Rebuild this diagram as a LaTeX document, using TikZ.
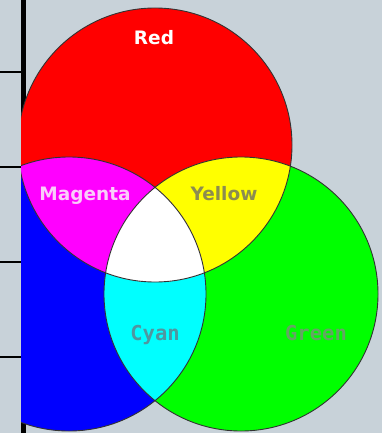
\documentclass[tikz,border=0pt]{standalone}
\usepackage{fontspec}
\usepackage{xcolor}
\usepackage{tikz}
\usetikzlibrary{positioning,calc}
\newfontfamily\labelfont{DejaVu Sans}
\newfontfamily\codefont{DejaVu Sans Mono}
\definecolor{panelbg}{RGB}{200,210,217}
\definecolor{redlight}{RGB}{255,0,0}
\definecolor{greenlight}{RGB}{0,255,0}
\definecolor{bluelight}{RGB}{0,0,255}
\definecolor{yellowmix}{RGB}{255,255,0}
\definecolor{magentamix}{RGB}{255,0,255}
\definecolor{cyanmix}{RGB}{0,255,255}
\definecolor{pinktxt}{RGB}{250,205,250}
\definecolor{yeltxt}{RGB}{140,140,80}
\definecolor{cyantxt}{RGB}{80,150,160}
\definecolor{greentxt}{RGB}{100,165,100}

\begin{document}
\begin{tikzpicture}[x=1pt,y=-1pt,
  lbl/.style={font=\labelfont\bfseries\fontsize{18.5}{20}\selectfont,anchor=base,inner sep=0pt},
  mono/.style={font=\codefont\bfseries\fontsize{20.5}{22}\selectfont,anchor=base,inner sep=0pt},
  rim/.style={draw=black!80,line width=0.9pt}]
\fill[panelbg] (0,0) rectangle (382,433);
\useasboundingbox (0,0) rectangle (382,433);
% frame on the left
\fill[black] (21,0) rectangle (26,433);
\foreach \y in {72,167,262,357}
  \draw[line width=1.5pt] (0,\y) -- (21,\y);
% centres of the three lights
\coordinate (r) at (155,145);
\coordinate (g) at (241,294);
\coordinate (b) at (69,294);
\def\rad{137pt}
\begin{scope}
\clip (21,0) rectangle (382,433);
\fill[redlight] (r) circle[radius=\rad];
\fill[greenlight] (g) circle[radius=\rad];
\fill[bluelight] (b) circle[radius=\rad];
\begin{scope}
  \clip (g) circle[radius=\rad];
  \fill[cyanmix] (b) circle[radius=\rad];
\end{scope}
\begin{scope}
  \clip (r) circle[radius=\rad];
  \fill[yellowmix] (g) circle[radius=\rad];
  \fill[magentamix] (b) circle[radius=\rad];
  \clip (g) circle[radius=\rad];
  \fill[white] (b) circle[radius=\rad];
\end{scope}
\draw[rim] (r) circle[radius=\rad];
\draw[rim] (g) circle[radius=\rad];
\draw[rim] (b) circle[radius=\rad];
\end{scope}
% labels
\node[lbl,text=white] (redlbl) at (154,45) {Red};
\node[lbl,text=pinktxt] (maglbl) at (85,200) {Magenta};
\node[lbl,text=yeltxt] (yellbl) at (224,200) {Yellow};
\node[mono,text=cyantxt] (cyanlbl) at (155,340) {Cyan};
\node[mono,text=greentxt] (greenlbl) at (316,340) {Green};
\end{tikzpicture}
\end{document}
